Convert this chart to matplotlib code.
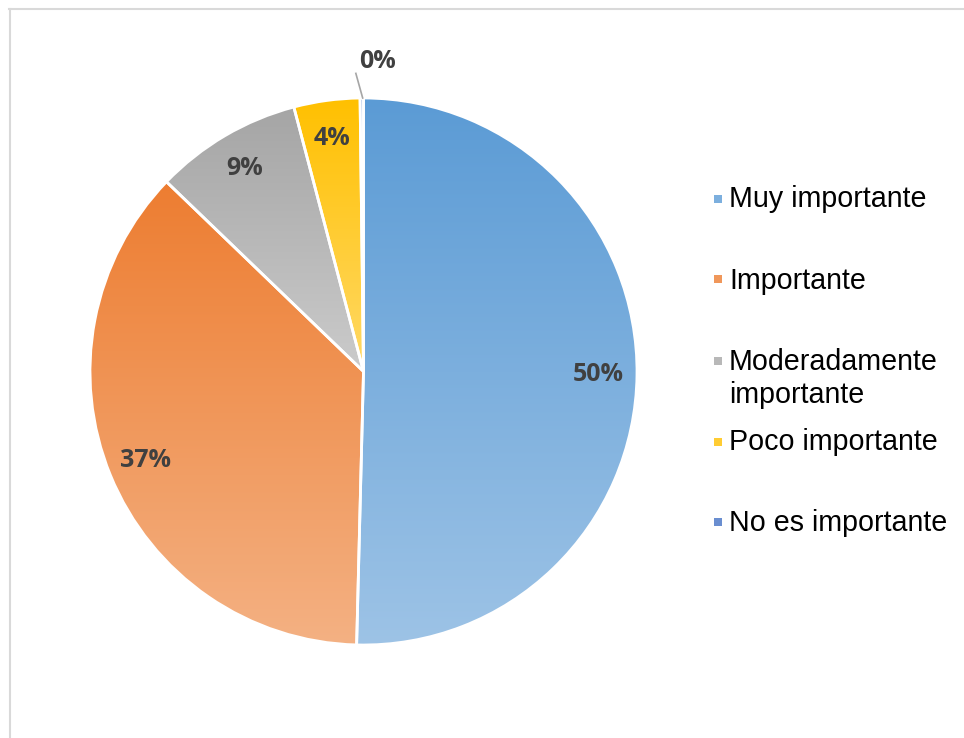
import numpy as np
import matplotlib
matplotlib.use("Agg")
import matplotlib.pyplot as plt
from matplotlib.colors import LinearSegmentedColormap, to_rgb, to_hex
from matplotlib.patches import Rectangle
from matplotlib.lines import Line2D

categories = ["Muy importante", "Importante", "Moderadamente\nimportante",
              "Poco importante", "No es importante"]
values = [50.4, 36.8, 8.7, 3.9, 0.2]
pct_labels = ["50%", "37%", "9%", "4%", "0%"]
# top (dark) / bottom (light) colour of each slice gradient
top_colors = ["#5B9BD5", "#ED7D31", "#A5A5A5", "#FFC000", "#4472C4"]
bottom_colors = ["#9DC3E6", "#F4B183", "#CBCBCB", "#FFD966", "#8FAADC"]

W, H = 964, 738
fig = plt.figure(figsize=(W / 100, H / 100), dpi=100)
ax = fig.add_axes([0, 0, 1, 1])

cx, cy, R = 363.5, H - 371.5, 273.5
wedges, texts, autotexts = ax.pie(
    values, center=(cx, cy), radius=R, startangle=90, counterclock=False,
    autopct="%1.0f%%", pctdistance=0.86, frame=True,
    wedgeprops=dict(facecolor="none", edgecolor="white", linewidth=2, zorder=3),
    textprops=dict(fontsize=18, fontweight="bold", color="#404040",
                   family="Open Sans"))
ax.set_xlim(0, W)
ax.set_ylim(0, H)
ax.set_aspect("auto")
ax.axis("off")

# chart frame (cropped at right/bottom)
ax.add_line(Line2D([9, W], [H - 8.5, H - 8.5], color="#D9D9D9", lw=1.5))
ax.add_line(Line2D([9.5, 9.5], [0, H - 8.5], color="#D9D9D9", lw=1.5))

grad = np.linspace(0, 1, 256).reshape(-1, 1)
for w, c_top, c_bot in zip(wedges, top_colors, bottom_colors):
    ext = w.get_path().transformed(w.get_patch_transform()).get_extents()
    cmap = LinearSegmentedColormap.from_list("g", [c_bot, c_top])
    im = ax.imshow(grad, cmap=cmap, origin="lower", aspect="auto",
                   extent=(ext.x0, ext.x1, ext.y0, ext.y1), zorder=2)
    im.set_clip_path(w)

for t, lab in zip(autotexts, pct_labels):
    t.set_text(lab)
    t.set_zorder(5)

# the tiny last slice gets its label outside with a leader line
t0 = autotexts[-1]
t0.set_position((cx + 0.05 * R, cy + 1.135 * R))
ax.add_line(Line2D([cx - 0.003 * R, cx - 0.028 * R], [cy + R, cy + 1.09 * R],
                   color="#A6A6A6", lw=1.2, zorder=4))

# legend drawn by hand to follow the original spacing
leg_y = [199, 281, 378.5, 442, 523]
mark_y = [199, 279, 361, 442, 522]
for lab, c_top, c_bot, ty, my in zip(categories, top_colors, bottom_colors,
                                     leg_y, mark_y):
    mid = to_hex(np.mean([to_rgb(c_top), to_rgb(c_bot)], axis=0))
    ax.add_patch(Rectangle((714, H - my - 4), 8, 8, facecolor=mid,
                           edgecolor="none"))
    ax.text(729, H - ty, lab, fontsize=20.6, family="Liberation Sans",
            color="#000000", ha="left", va="center")

fig.savefig("out.png", dpi=100)
